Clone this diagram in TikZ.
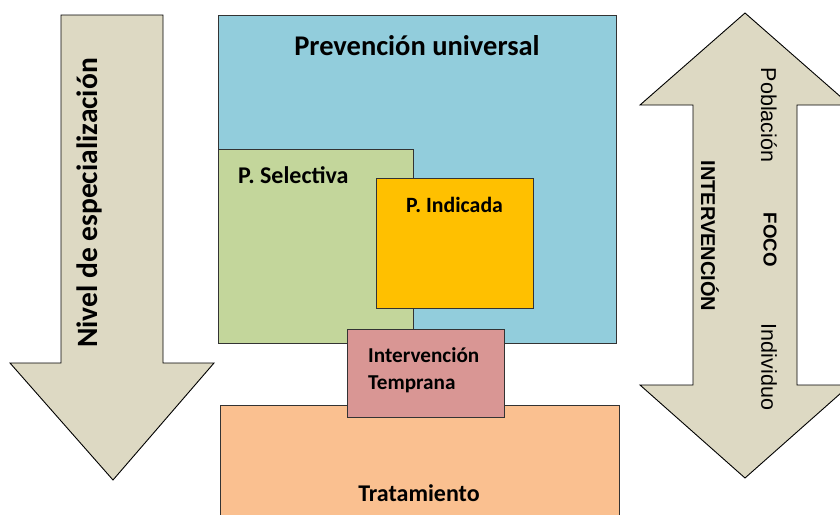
\documentclass[tikz,border=0pt]{standalone}
\usepackage{fontspec}
\setmainfont{Carlito}
\newfontfamily\arialf{Liberation Sans}
\begin{document}
\begin{tikzpicture}[x=1pt,y=-1pt,
  box/.style={draw=black!80,line width=0.9pt,anchor=north west,inner sep=0pt},
  arr/.style={draw=black,line width=0.9pt,fill=arrowfill},
  lab/.style={anchor=base west,inner sep=0pt}]
\definecolor{arrowfill}{HTML}{DDD9C3}
\definecolor{cblue}{HTML}{92CDDC}
\definecolor{cgreen}{HTML}{C3D69B}
\definecolor{corange}{HTML}{FFC000}
\definecolor{cpink}{HTML}{D99694}
\definecolor{cpeach}{HTML}{FAC090}
\useasboundingbox (0,0) rectangle (840,514);
\clip (0,0) rectangle (840,514);
% left arrow
\draw[arr] (61,15) -- (163,15) -- (163,363) -- (214,363) -- (113,480) -- (10,363) -- (61,363) -- cycle;
\node[rotate=90,font=\bfseries\fontsize{29.5}{32}\selectfont,inner sep=0pt] (nivel) at (89,203) {Nivel de especialización};
% right arrow
\draw[arr] (745,13) -- (850,105) -- (797,105) -- (797,385) -- (850,385) -- (745,478) -- (640,385) -- (693,385) -- (693,105) -- (640,105) -- cycle;
\node[rotate=-90,font=\arialf\fontsize{21.5}{24}\selectfont,inner sep=0pt] (pob) at (769,115) {Población};
\node[rotate=-90,font=\arialf\bfseries\fontsize{18.7}{22}\selectfont,inner sep=0pt] (foco) at (770,240) {FOCO};
\node[rotate=-90,font=\arialf\fontsize{21.5}{24}\selectfont,inner sep=0pt] (indiv) at (769,367) {Individuo};
\node[rotate=-90,font=\arialf\bfseries\fontsize{20}{22}\selectfont,inner sep=0pt] (interv) at (710,236) {INTERVENCIÓN};
% boxes
\node[box,fill=cblue,minimum width=398pt,minimum height=328pt] (univ) at (218,15) {};
\node[box,fill=cgreen,minimum width=195pt,minimum height=194pt] (sel) at (218,149) {};
\node[box,fill=corange,minimum width=157pt,minimum height=130pt] (ind) at (376,178) {};
\node[box,fill=cpeach,minimum width=399pt,minimum height=130pt] (trat) at (220,405) {};
\node[box,fill=cpink,minimum width=157pt,minimum height=88pt] (temp) at (347,329) {};
% labels
\node[font=\bfseries\fontsize{28.5}{32}\selectfont,inner sep=0pt] (tuniv) at (417,46) {Prevención universal};
\node[lab,font=\bfseries\fontsize{24}{28}\selectfont] (tsel) at (238,183) {P. Selectiva};
\node[lab,font=\bfseries\fontsize{21.8}{26}\selectfont] (tind) at (406,212) {P. Indicada};
\node[lab,font=\bfseries\fontsize{21.2}{26}\selectfont] (ttemp1) at (368,362) {Intervención};
\node[lab,font=\bfseries\fontsize{21.2}{26}\selectfont] (ttemp2) at (368,389) {Temprana};
\node[font=\bfseries\fontsize{24}{28}\selectfont,inner sep=0pt] (ttrat) at (419,493) {Tratamiento};
\end{tikzpicture}
\end{document}
